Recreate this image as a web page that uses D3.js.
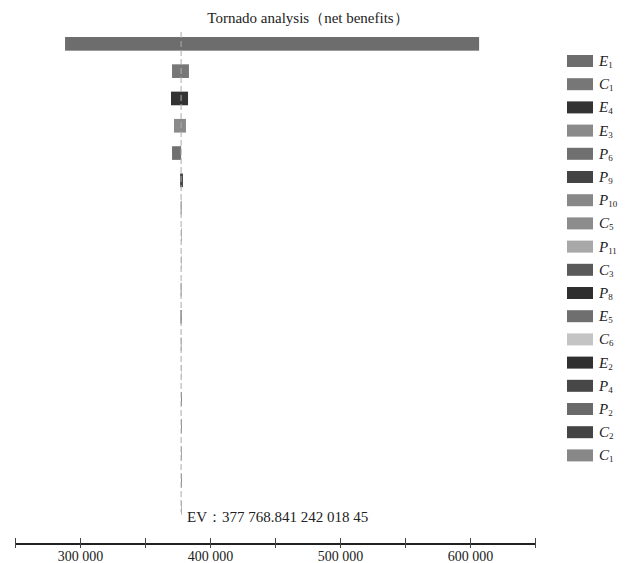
<!DOCTYPE html>
<html>
<head>
<meta charset="utf-8">
<script src="https://cdn.jsdelivr.net/npm/d3@7"></script>
<style>
  body { margin: 0; background: #fff; }
  text { font-family: "Liberation Serif", "DejaVu Serif", serif; fill: #222; }
</style>
</head>
<body>
<div id="chart"></div>
<script>
var width = 626;
var height = 563;

// variables, in tornado order
var letters = ["E", "C", "E", "E", "P", "P", "P", "C", "P", "C", "P", "E", "C", "E", "P", "P", "C", "C"];
var subs = ["1", "1", "4", "3", "6", "9", "10", "5", "11", "3", "8", "5", "6", "2", "4", "2", "2", "1"];
var lows = [288500, 370800, 370000, 372300, 370800, 377000, 377400, 377700, 377650, 377500, 377400, 377550, 377700, 377720, 377740, 377745, 377755, 377760];
var highs = [607000, 383800, 383100, 381500, 377769, 379200, 378200, 377850, 377900, 378000, 378100, 377950, 377840, 377810, 377795, 377790, 377780, 377775];
var colors = ["#6d6d6d", "#777777", "#333333", "#8a8a8a", "#707070", "#444444", "#888888", "#8c8c8c", "#a8a8a8", "#5a5a5a", "#2e2e2e", "#6f6f6f", "#c4c4c4", "#303030", "#474747", "#6a6a6a", "#444444", "#888888"];
var ev = 377768.84124201845;
var tickValues = [250000, 300000, 350000, 400000, 450000, 500000, 550000, 600000, 650000];

var svg = d3.select("#chart").append("svg")
    .attr("width", width)
    .attr("height", height);

var x = d3.scaleLinear().domain([250000, 650000]).range([15, 535]);
var y = d3.scaleBand()
    .domain(d3.range(letters.length))
    .range([30.2, 521.6])
    .paddingInner(0.5)
    .paddingOuter(0.25);

svg.append("text")
    .attr("x", 308)
    .attr("y", 23)
    .attr("text-anchor", "middle")
    .style("font-size", "15px")
    .text("Tornado analysis（net benefits）");

// bars
svg.selectAll("rect.bar")
    .data(d3.range(letters.length))
    .enter().append("rect")
    .attr("class", "bar")
    .attr("x", function (i) { return x(lows[i]); })
    .attr("y", function (i) { return y(i); })
    .attr("width", function (i) { return Math.max(0.6, x(highs[i]) - x(lows[i])); })
    .attr("height", y.bandwidth())
    .attr("fill", function (i) { return colors[i]; });

// EV dashed line
svg.append("line")
    .attr("x1", x(ev)).attr("x2", x(ev))
    .attr("y1", 32).attr("y2", 512)
    .attr("stroke", "#aaa")
    .attr("stroke-width", 1)
    .attr("stroke-dasharray", "6,3");

svg.append("text")
    .attr("x", x(ev) + 6)
    .attr("y", 522)
    .style("font-size", "15px")
    .text("EV：377 768.841 242 018 45");

// axis
var fmt = function (d) {
    return d % 100000 === 0 ? d3.format(",")(d).replace(/,/g, " ") : "";
};
var axis = svg.append("g")
    .attr("transform", "translate(0,544)")
    .call(d3.axisBottom(x).tickValues(tickValues).tickSize(5).tickFormat(fmt));
axis.select(".domain").attr("stroke", "#222").attr("stroke-width", 2).attr("d", "M" + x(250000) + ",0H" + x(650000));
axis.selectAll(".tick line").attr("stroke", "#444").attr("y1", -6).attr("y2", 4);
axis.selectAll(".tick text")
    .attr("y", 7)
    .style("font-size", "14px")
    .style("font-family", "'Liberation Serif', serif")
    .attr("fill", "#222");

// legend
var legend = svg.selectAll("g.leg")
    .data(d3.range(letters.length))
    .enter().append("g")
    .attr("class", "leg")
    .attr("transform", function (i) { return "translate(567," + (55 + i * 23.2) + ")"; });

legend.append("rect")
    .attr("width", 26)
    .attr("height", 12)
    .attr("fill", function (i) { return colors[i]; });

var lt = legend.append("text")
    .attr("x", 32)
    .attr("y", 11)
    .style("font-size", "15px");
lt.append("tspan")
    .style("font-style", "italic")
    .text(function (i) { return letters[i]; });
lt.append("tspan")
    .attr("dy", 2)
    .style("font-size", "9px")
    .text(function (i) { return subs[i]; });
</script>
</body>
</html>
